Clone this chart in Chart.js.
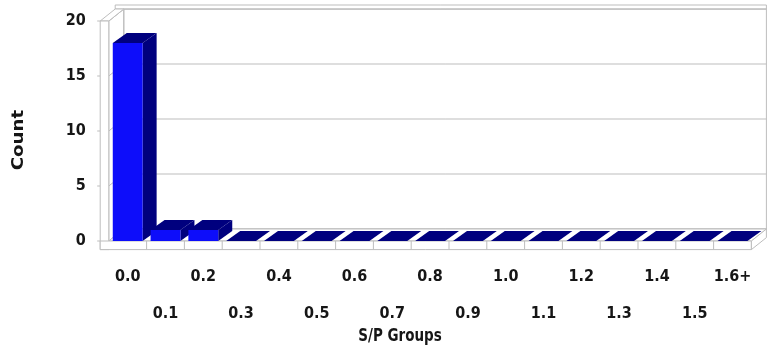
<!DOCTYPE html>
<html>
<head>
<meta charset="utf-8">
<style>
  html, body { margin: 0; padding: 0; background: #ffffff; }
  #wrap { width: 767px; height: 351px; position: relative; }
</style>
<script src="https://cdn.jsdelivr.net/npm/chart.js@4/dist/chart.umd.min.js"></script>
</head>
<body>
<div id="wrap"><canvas id="c"></canvas></div>
<script>
// S/P group histogram
const groups = ['0.0', '0.1', '0.2', '0.3', '0.4', '0.5', '0.6', '0.7', '0.8',
                '0.9', '1.0', '1.1', '1.2', '1.3', '1.4', '1.5', '1.6+'];
const counts = [18, 1, 1, 0, 0, 0, 0, 0, 0, 0, 0, 0, 0, 0, 0, 0, 0];
const countTicks = [0, 5, 10, 15, 20];
const xTitle = 'S/P Groups';
const yTitle = 'Count';

const FONT = "'Liberation Sans Narrow', 'Arial Narrow', 'DejaVu Sans Condensed', 'Liberation Sans', sans-serif";
const TEXT = '#161616';
const LINE = '#bdbdbd';
const FRONT = '#0d0dfa';
const SHADE = '#00007e';

// depth of the walls / floor and of each column
const WALL_DX = 15, WALL_DY = -12, SLAB = 8.6;
const BAR_DX = 14, BAR_DY = -10;

function poly(ctx, pts, fill, stroke) {
  ctx.beginPath();
  ctx.moveTo(pts[0][0], pts[0][1]);
  for (let i = 1; i < pts.length; i++) ctx.lineTo(pts[i][0], pts[i][1]);
  ctx.closePath();
  if (fill) { ctx.fillStyle = fill; ctx.fill(); }
  if (stroke) { ctx.strokeStyle = stroke; ctx.stroke(); }
}
function seg(ctx, x1, y1, x2, y2) {
  ctx.beginPath(); ctx.moveTo(x1, y1); ctx.lineTo(x2, y2); ctx.stroke();
}
// fixed box sizes, no extra label overhang
function fixBox(w, h) {
  return s => {
    if (w !== null) s.width = w;
    if (h !== null) s.height = h;
    s.paddingTop = s.paddingBottom = s.paddingLeft = s.paddingRight = 0;
  };
}

const scene3d = {
  id: 'scene3d',
  beforeDatasetsDraw(chart) {
    const { ctx, chartArea: a, scales } = chart;
    const y = scales.y, x = scales.x;
    const L = a.left, R = a.right, T = a.top, B = a.bottom;
    const dx = WALL_DX, dy = WALL_DY;
    ctx.save();
    ctx.lineWidth = 1;

    // back wall with its top edge
    poly(ctx, [[L + dx, T + dy], [R + dx, T + dy], [R + dx, B + dy], [L + dx, B + dy]], '#ffffff', LINE);
    poly(ctx, [[L - SLAB + dx, T + dy - 4], [R + dx, T + dy - 4], [R + dx, T + dy], [L - SLAB + dx, T + dy]], '#ffffff', LINE);

    // horizontal gridlines on the back wall and across the left wall
    ctx.strokeStyle = LINE;
    countTicks.forEach(v => {
      const py = y.getPixelForValue(v);
      seg(ctx, L + dx, py + dy, R + dx, py + dy);
      seg(ctx, L, py, L + dx, py + dy);
      seg(ctx, L - SLAB - 3, py, L - SLAB, py);
    });

    // left wall: inner face, top and front of the slab
    poly(ctx, [[L, T], [L + dx, T + dy], [L + dx, B + dy], [L, B]], null, LINE);
    poly(ctx, [[L - SLAB, T], [L, T], [L + dx, T + dy], [L - SLAB + dx, T + dy]], '#ffffff', LINE);
    poly(ctx, [[L - SLAB, T], [L, T], [L, B + SLAB], [L - SLAB, B + SLAB]], '#ffffff', LINE);

    // floor: top face, front face with category dividers, right end
    poly(ctx, [[L, B], [R, B], [R + dx, B + dy], [L + dx, B + dy]], '#ffffff', LINE);
    poly(ctx, [[L - SLAB, B], [R, B], [R, B + SLAB], [L - SLAB, B + SLAB]], '#ffffff', LINE);
    poly(ctx, [[R, B], [R + dx, B + dy], [R + dx, B + dy + SLAB], [R, B + SLAB]], '#ffffff', LINE);
    for (let i = 0; i < groups.length - 1; i++) {
      const bx = (x.getPixelForValue(i) + x.getPixelForValue(i + 1)) / 2;
      seg(ctx, bx, B, bx, B + SLAB);
    }

    // column sides and tops, left to right
    const meta = chart.getDatasetMeta(0);
    meta.data.forEach(el => {
      const p = el.getProps(['x', 'y', 'base', 'width'], true);
      const xl = p.x - p.width / 2, xr = p.x + p.width / 2;
      const top = Math.min(p.y, p.base), base = Math.max(p.y, p.base);
      poly(ctx, [[xr, top], [xr + BAR_DX, top + BAR_DY], [xr + BAR_DX, base + BAR_DY], [xr, base]], SHADE, null);
      poly(ctx, [[xl, top], [xr, top], [xr + BAR_DX, top + BAR_DY], [xl + BAR_DX, top + BAR_DY]], SHADE, null);
    });
    ctx.restore();
  },
  afterDraw(chart) {
    const { ctx } = chart;
    ctx.save();
    ctx.fillStyle = TEXT;
    ctx.textAlign = 'center';
    ctx.textBaseline = 'middle';
    ctx.font = "bold 15px " + FONT;
    ctx.save();
    ctx.translate(400, 337);
    ctx.scale(1, 1.15);
    ctx.fillText(xTitle, 0, 0);
    ctx.restore();
    ctx.translate(19, 140);
    ctx.rotate(-Math.PI / 2);
    ctx.scale(1.35, 1.05);
    ctx.fillText(yTitle, 0, 0);
    ctx.restore();
  }
};

new Chart(document.getElementById('c'), {
  type: 'bar',
  data: {
    labels: groups,
    datasets: [{
      data: counts,
      backgroundColor: FRONT,
      borderWidth: 0,
      categoryPercentage: 1,
      barPercentage: 0.79
    }]
  },
  options: {
    responsive: true,
    maintainAspectRatio: false,
    animation: false,
    events: [],
    layout: { padding: { top: 21, right: 15.6, bottom: 0, left: 0 } },
    plugins: { legend: { display: false }, tooltip: { enabled: false } },
    scales: {
      y: {
        min: 0, max: 20,
        afterFit: fixBox(108.8, null),
        afterBuildTicks: s => { s.ticks = countTicks.map(v => ({ value: v })); },
        grid: { display: false, drawTicks: false },
        border: { display: false },
        ticks: { padding: 23, color: TEXT, font: { family: FONT, size: 16, weight: 'bold' } }
      },
      x: {
        position: 'bottom',
        afterFit: fixBox(null, 52),
        grid: { display: false, drawTicks: false },
        border: { display: false },
        ticks: {
          autoSkip: false, maxRotation: 0, padding: 26,
          color: TEXT, font: { family: FONT, size: 16, weight: 'bold' },
          callback: (v, i) => (i % 2 === 0 ? groups[i] : '')
        }
      },
      x2: {
        type: 'category',
        position: 'bottom',
        labels: groups,
        afterFit: fixBox(null, 58),
        grid: { display: false, drawTicks: false },
        border: { display: false },
        ticks: {
          autoSkip: false, maxRotation: 0, padding: 11,
          color: TEXT, font: { family: FONT, size: 16, weight: 'bold' },
          callback: (v, i) => (i % 2 === 1 ? groups[i] : '')
        }
      }
    }
  },
  plugins: [scene3d]
});
</script>
</body>
</html>
